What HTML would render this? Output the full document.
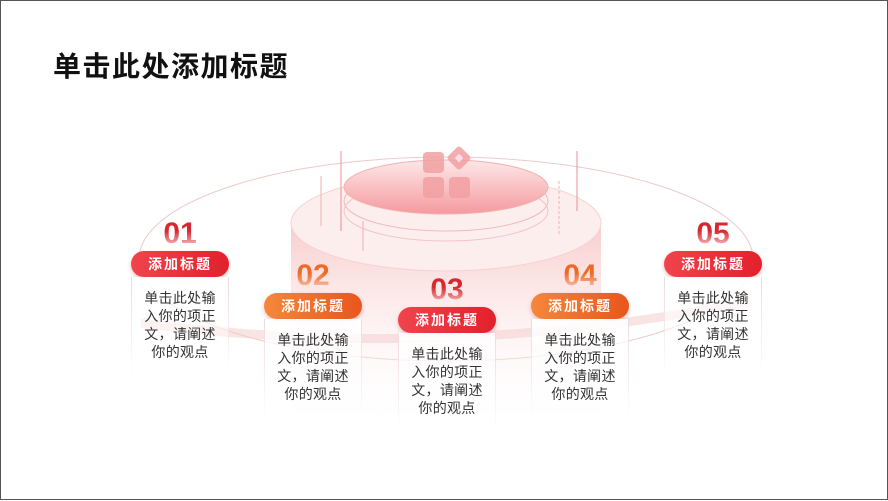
<!DOCTYPE html>
<html><head><meta charset="utf-8"><style>
body{margin:0;width:888px;height:500px;overflow:hidden;background:#fff;font-family:"Liberation Sans","Noto Sans CJK SC",sans-serif;}
.frame{position:absolute;left:0;top:0;width:886px;height:498px;border:1px solid #555;background:#fff;}
h1{position:absolute;left:52px;top:44px;margin:0;font-size:28px;font-weight:bold;color:#111;letter-spacing:1.5px;}
.num{position:absolute;width:98px;text-align:center;font-size:30px;font-weight:bold;line-height:30px;-webkit-background-clip:text;background-clip:text;color:transparent;}
.nr{background-image:linear-gradient(#d8282f 40%,rgba(230,60,60,0.15));}
.no{background-image:linear-gradient(#ee6a25 40%,rgba(240,120,60,0.15));}
.pill{position:absolute;width:98px;height:26px;border-radius:13px;color:#fff;font-size:14px;font-weight:bold;text-align:center;line-height:26px;letter-spacing:2px;box-shadow:0 2px 4px rgba(200,40,40,.3);}
.red{background:linear-gradient(90deg,#f0444c,#e3202c);}
.org{background:linear-gradient(90deg,#f5873c,#e9561c);}
.card{position:absolute;width:98px;background:linear-gradient(rgba(255,255,255,.95),rgba(255,255,255,0));text-align:center;font-size:14px;line-height:18px;color:#333;padding-top:12px;height:100px;letter-spacing:.3px;}
.card:before,.card:after{content:"";position:absolute;top:0;width:1px;height:100px;background:linear-gradient(#eedada,rgba(240,220,220,0));}
.card:before{left:0}.card:after{right:0}
</style></head><body><div class="frame">
<svg width="888" height="500" style="position:absolute;left:0;top:0">
<defs>
<linearGradient id="cyl" x1="0" y1="0" x2="0" y2="1"><stop offset="0" stop-color="#f9cccc"/><stop offset="1" stop-color="#fff" stop-opacity="0"/></linearGradient>
<linearGradient id="top" x1="0" y1="0" x2="0" y2="1"><stop offset="0" stop-color="#fde8e8"/><stop offset="1" stop-color="#f59a9e"/></linearGradient>
</defs>
<ellipse cx="445" cy="258" rx="307" ry="102" fill="none" stroke="#eccaca" stroke-width="1"/>
<path d="M290 222 L290 430 L600 430 L600 222 Z" fill="url(#cyl)"/>
<ellipse cx="445" cy="222" rx="155" ry="48" fill="#fdeeee" stroke="#f6d0d0"/>
<ellipse cx="445" cy="200" rx="102" ry="30" fill="none" stroke="#f0baba"/>
<ellipse cx="445" cy="210" rx="102" ry="30" fill="none" stroke="#f2c4c4"/>
<ellipse cx="445" cy="186" rx="102" ry="27" fill="url(#top)" stroke="#f2b0b0"/>
<path d="M140 322 Q445 362 750 300" fill="none" stroke="#f4caca" stroke-width="9" opacity=".5"/>
<line x1="340" y1="150" x2="340" y2="230" stroke="#e89090"/>
<line x1="320" y1="175" x2="320" y2="225" stroke="#eeb0b0"/>
<line x1="362" y1="220" x2="362" y2="250" stroke="#eeb0b0"/>
<line x1="576" y1="150" x2="576" y2="210" stroke="#e89090"/>
<line x1="558" y1="180" x2="558" y2="235" stroke="#eeb0b0" stroke-dasharray="3 2"/>
<g fill="#f2a0a2" opacity=".85">
<rect x="422" y="151" width="21" height="21" rx="4"/>
<rect x="422" y="176" width="21" height="21" rx="4"/>
<rect x="448" y="176" width="21" height="21" rx="4"/>
<rect x="449" y="148" width="18" height="18" rx="3" transform="rotate(45 458 157)"/>
</g>
<rect x="455" y="154" width="6" height="6" fill="#fde" transform="rotate(45 458 157)"/>
</svg>
<h1>单击此处添加标题</h1>

<div class="num nr" style="left:130px;top:218px">01</div>
<div class="pill red" style="left:130px;top:250px">添加标题</div>
<div class="card" style="left:130px;top:276px">单击此处输<br>入你的项正<br>文，请阐述<br>你的观点</div>

<div class="num no" style="left:263px;top:260px">02</div>
<div class="pill org" style="left:263px;top:292px">添加标题</div>
<div class="card" style="left:263px;top:318px">单击此处输<br>入你的项正<br>文，请阐述<br>你的观点</div>

<div class="num nr" style="left:397px;top:274px">03</div>
<div class="pill red" style="left:397px;top:306px">添加标题</div>
<div class="card" style="left:397px;top:332px">单击此处输<br>入你的项正<br>文，请阐述<br>你的观点</div>

<div class="num no" style="left:530px;top:260px">04</div>
<div class="pill org" style="left:530px;top:292px">添加标题</div>
<div class="card" style="left:530px;top:318px">单击此处输<br>入你的项正<br>文，请阐述<br>你的观点</div>

<div class="num nr" style="left:663px;top:218px">05</div>
<div class="pill red" style="left:663px;top:250px">添加标题</div>
<div class="card" style="left:663px;top:276px">单击此处输<br>入你的项正<br>文，请阐述<br>你的观点</div>
</div></body></html>
